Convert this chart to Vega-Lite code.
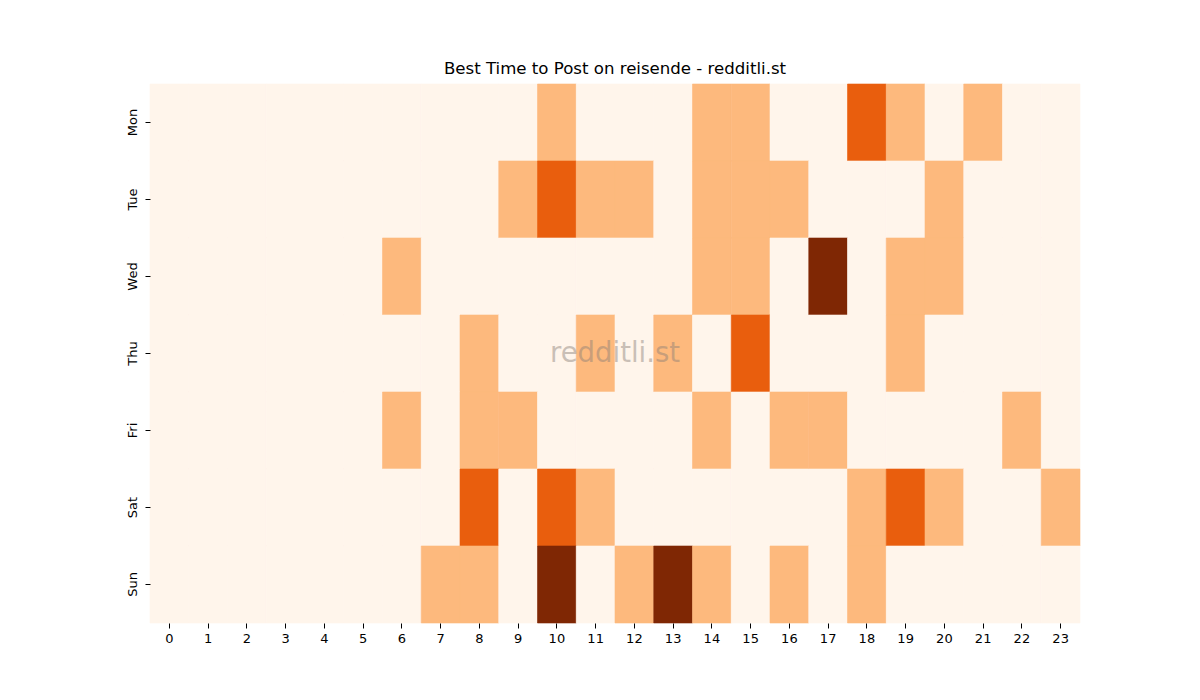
{
  "$schema": "https://vega.github.io/schema/vega-lite/v6.json",
  "width": 930,
  "height": 539,
  "autosize": {"type": "none"},
  "padding": {"left": 150, "top": 84, "right": 120, "bottom": 77},
  "background": "white",
  "title": {"text": "Best Time to Post on reisende - redditli.st", "font": "DejaVu Sans", "fontSize": 16.6, "fontWeight": "normal", "color": "black", "offset": 6},
  "config": {"view": {"stroke": null}},
  "datasets": {
    "grid": [
      {"d":"Mon","h":0,"v":0},{"d":"Mon","h":1,"v":0},{"d":"Mon","h":2,"v":0},{"d":"Mon","h":3,"v":0},{"d":"Mon","h":4,"v":0},{"d":"Mon","h":5,"v":0},{"d":"Mon","h":6,"v":0},{"d":"Mon","h":7,"v":0},{"d":"Mon","h":8,"v":0},{"d":"Mon","h":9,"v":0},{"d":"Mon","h":10,"v":1},{"d":"Mon","h":11,"v":0},{"d":"Mon","h":12,"v":0},{"d":"Mon","h":13,"v":0},{"d":"Mon","h":14,"v":1},{"d":"Mon","h":15,"v":1},{"d":"Mon","h":16,"v":0},{"d":"Mon","h":17,"v":0},{"d":"Mon","h":18,"v":2},{"d":"Mon","h":19,"v":1},{"d":"Mon","h":20,"v":0},{"d":"Mon","h":21,"v":1},{"d":"Mon","h":22,"v":0},{"d":"Mon","h":23,"v":0},
      {"d":"Tue","h":0,"v":0},{"d":"Tue","h":1,"v":0},{"d":"Tue","h":2,"v":0},{"d":"Tue","h":3,"v":0},{"d":"Tue","h":4,"v":0},{"d":"Tue","h":5,"v":0},{"d":"Tue","h":6,"v":0},{"d":"Tue","h":7,"v":0},{"d":"Tue","h":8,"v":0},{"d":"Tue","h":9,"v":1},{"d":"Tue","h":10,"v":2},{"d":"Tue","h":11,"v":1},{"d":"Tue","h":12,"v":1},{"d":"Tue","h":13,"v":0},{"d":"Tue","h":14,"v":1},{"d":"Tue","h":15,"v":1},{"d":"Tue","h":16,"v":1},{"d":"Tue","h":17,"v":0},{"d":"Tue","h":18,"v":0},{"d":"Tue","h":19,"v":0},{"d":"Tue","h":20,"v":1},{"d":"Tue","h":21,"v":0},{"d":"Tue","h":22,"v":0},{"d":"Tue","h":23,"v":0},
      {"d":"Wed","h":0,"v":0},{"d":"Wed","h":1,"v":0},{"d":"Wed","h":2,"v":0},{"d":"Wed","h":3,"v":0},{"d":"Wed","h":4,"v":0},{"d":"Wed","h":5,"v":0},{"d":"Wed","h":6,"v":1},{"d":"Wed","h":7,"v":0},{"d":"Wed","h":8,"v":0},{"d":"Wed","h":9,"v":0},{"d":"Wed","h":10,"v":0},{"d":"Wed","h":11,"v":0},{"d":"Wed","h":12,"v":0},{"d":"Wed","h":13,"v":0},{"d":"Wed","h":14,"v":1},{"d":"Wed","h":15,"v":1},{"d":"Wed","h":16,"v":0},{"d":"Wed","h":17,"v":3},{"d":"Wed","h":18,"v":0},{"d":"Wed","h":19,"v":1},{"d":"Wed","h":20,"v":1},{"d":"Wed","h":21,"v":0},{"d":"Wed","h":22,"v":0},{"d":"Wed","h":23,"v":0},
      {"d":"Thu","h":0,"v":0},{"d":"Thu","h":1,"v":0},{"d":"Thu","h":2,"v":0},{"d":"Thu","h":3,"v":0},{"d":"Thu","h":4,"v":0},{"d":"Thu","h":5,"v":0},{"d":"Thu","h":6,"v":0},{"d":"Thu","h":7,"v":0},{"d":"Thu","h":8,"v":1},{"d":"Thu","h":9,"v":0},{"d":"Thu","h":10,"v":0},{"d":"Thu","h":11,"v":1},{"d":"Thu","h":12,"v":0},{"d":"Thu","h":13,"v":1},{"d":"Thu","h":14,"v":0},{"d":"Thu","h":15,"v":2},{"d":"Thu","h":16,"v":0},{"d":"Thu","h":17,"v":0},{"d":"Thu","h":18,"v":0},{"d":"Thu","h":19,"v":1},{"d":"Thu","h":20,"v":0},{"d":"Thu","h":21,"v":0},{"d":"Thu","h":22,"v":0},{"d":"Thu","h":23,"v":0},
      {"d":"Fri","h":0,"v":0},{"d":"Fri","h":1,"v":0},{"d":"Fri","h":2,"v":0},{"d":"Fri","h":3,"v":0},{"d":"Fri","h":4,"v":0},{"d":"Fri","h":5,"v":0},{"d":"Fri","h":6,"v":1},{"d":"Fri","h":7,"v":0},{"d":"Fri","h":8,"v":1},{"d":"Fri","h":9,"v":1},{"d":"Fri","h":10,"v":0},{"d":"Fri","h":11,"v":0},{"d":"Fri","h":12,"v":0},{"d":"Fri","h":13,"v":0},{"d":"Fri","h":14,"v":1},{"d":"Fri","h":15,"v":0},{"d":"Fri","h":16,"v":1},{"d":"Fri","h":17,"v":1},{"d":"Fri","h":18,"v":0},{"d":"Fri","h":19,"v":0},{"d":"Fri","h":20,"v":0},{"d":"Fri","h":21,"v":0},{"d":"Fri","h":22,"v":1},{"d":"Fri","h":23,"v":0},
      {"d":"Sat","h":0,"v":0},{"d":"Sat","h":1,"v":0},{"d":"Sat","h":2,"v":0},{"d":"Sat","h":3,"v":0},{"d":"Sat","h":4,"v":0},{"d":"Sat","h":5,"v":0},{"d":"Sat","h":6,"v":0},{"d":"Sat","h":7,"v":0},{"d":"Sat","h":8,"v":2},{"d":"Sat","h":9,"v":0},{"d":"Sat","h":10,"v":2},{"d":"Sat","h":11,"v":1},{"d":"Sat","h":12,"v":0},{"d":"Sat","h":13,"v":0},{"d":"Sat","h":14,"v":0},{"d":"Sat","h":15,"v":0},{"d":"Sat","h":16,"v":0},{"d":"Sat","h":17,"v":0},{"d":"Sat","h":18,"v":1},{"d":"Sat","h":19,"v":2},{"d":"Sat","h":20,"v":1},{"d":"Sat","h":21,"v":0},{"d":"Sat","h":22,"v":0},{"d":"Sat","h":23,"v":1},
      {"d":"Sun","h":0,"v":0},{"d":"Sun","h":1,"v":0},{"d":"Sun","h":2,"v":0},{"d":"Sun","h":3,"v":0},{"d":"Sun","h":4,"v":0},{"d":"Sun","h":5,"v":0},{"d":"Sun","h":6,"v":0},{"d":"Sun","h":7,"v":1},{"d":"Sun","h":8,"v":1},{"d":"Sun","h":9,"v":0},{"d":"Sun","h":10,"v":3},{"d":"Sun","h":11,"v":0},{"d":"Sun","h":12,"v":1},{"d":"Sun","h":13,"v":3},{"d":"Sun","h":14,"v":1},{"d":"Sun","h":15,"v":0},{"d":"Sun","h":16,"v":1},{"d":"Sun","h":17,"v":0},{"d":"Sun","h":18,"v":1},{"d":"Sun","h":19,"v":0},{"d":"Sun","h":20,"v":0},{"d":"Sun","h":21,"v":0},{"d":"Sun","h":22,"v":0},{"d":"Sun","h":23,"v":0}
    ],
    "mark": [{"label": "redditli.st"}]
  },
  "layer": [
    {
      "data": {"name": "grid"},
      "mark": {"type": "rect", "strokeWidth": 0.6},
      "encoding": {
        "x": {"field": "h", "type": "ordinal", "scale": {"paddingInner": 0, "paddingOuter": 0},
              "axis": {"title": null, "labelAngle": 0, "labelFont": "DejaVu Sans", "labelFontSize": 13, "labelColor": "black", "tickColor": "black", "tickSize": 5, "domain": false, "labelPadding": 4}},
        "y": {"field": "d", "type": "ordinal", "sort": ["Mon","Tue","Wed","Thu","Fri","Sat","Sun"], "scale": {"paddingInner": 0, "paddingOuter": 0},
              "axis": {"title": null, "labelAngle": -90, "labelAlign": "center", "labelBaseline": "bottom", "labelFont": "DejaVu Sans", "labelFontSize": 13, "labelColor": "black", "tickColor": "black", "tickSize": 5, "domain": false, "labelPadding": 6}},
        "color": {"field": "v", "type": "ordinal", "scale": {"domain": [0,1,2,3], "range": ["#fff5eb","#fdb97d","#e95e0d","#7f2704"]}, "legend": null},
        "stroke": {"field": "v", "type": "ordinal", "scale": {"domain": [0,1,2,3], "range": ["#fff5eb","#fdb97d","#e95e0d","#7f2704"]}, "legend": null}
      }
    },
    {
      "data": {"name": "mark"},
      "mark": {"type": "text", "font": "DejaVu Sans", "fontSize": 27.5, "color": "#8a7f78", "opacity": 0.45, "align": "center", "baseline": "middle"},
      "encoding": {
        "text": {"field": "label"},
        "x": {"datum": 12, "type": "ordinal", "bandPosition": 0},
        "y": {"datum": "Thu", "type": "ordinal", "bandPosition": 0.5}
      }
    }
  ]
}
